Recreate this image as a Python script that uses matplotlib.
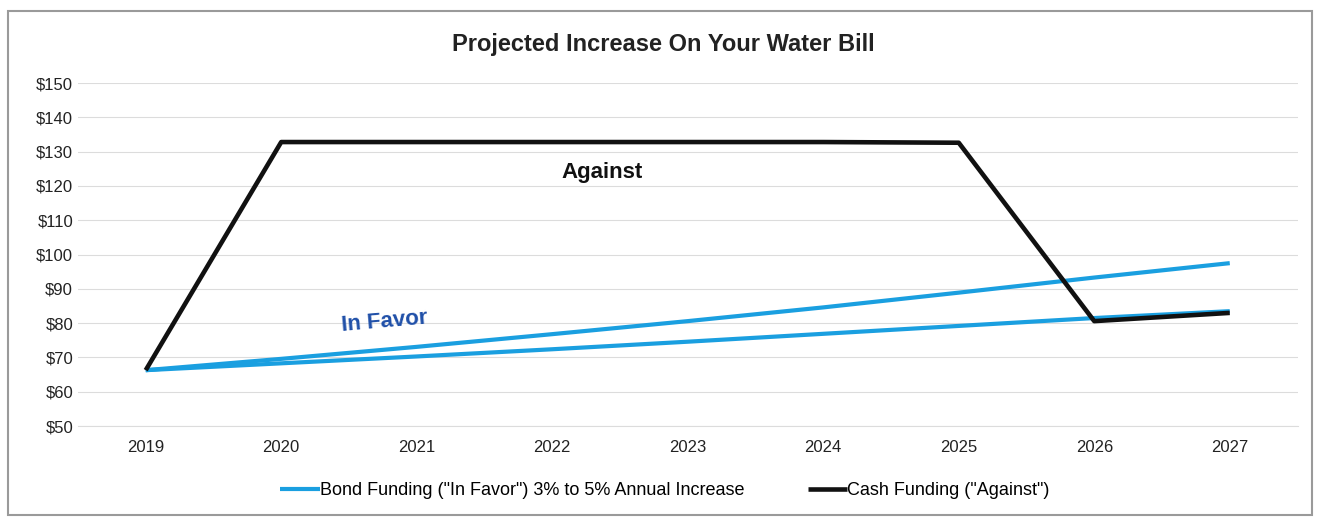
import matplotlib
matplotlib.use("Agg")
from matplotlib import pyplot as plt
from matplotlib.patches import Rectangle

# data
years = ["2019", "2020", "2021", "2022", "2023", "2024", "2025", "2026", "2027"]
bond_5pct = [66.3, 69.6, 73.1, 76.8, 80.6, 84.6, 88.9, 93.3, 97.5]
bond_3pct = [66.3, 68.3, 70.3, 72.4, 74.6, 76.9, 79.2, 81.5, 83.5]
cash = [66.3, 132.8, 132.8, 132.8, 132.8, 132.8, 132.6, 80.6, 83.0]
yticks = [50, 60, 70, 80, 90, 100, 110, 120, 130, 140, 150]

plt.rcParams['font.family'] = ['Liberation Sans Narrow', 'Liberation Sans', 'DejaVu Sans']

blue = '#1a9fe0'
fig = plt.figure(figsize=(13.17, 5.19), dpi=100)
ax = fig.add_axes([0.0592, 0.179, 0.926, 0.661])

x = range(len(years))
ax.plot(x, bond_5pct, color=blue, lw=3, solid_capstyle='butt',
        label='Bond Funding ("In Favor") 3% to 5% Annual Increase')
ax.plot(x, bond_3pct, color=blue, lw=3, solid_capstyle='butt')
ax.plot(x, cash, color='#111111', lw=3.3, solid_capstyle='butt',
        label='Cash Funding ("Against")')

ax.set_xlim(-0.5, len(years) - 0.5)
ax.set_ylim(50, 150)
ax.set_xticks(list(x))
ax.set_xticklabels(years)
ax.set_yticks(yticks)
ax.set_yticklabels(['$%d' % v for v in yticks])
ax.tick_params(length=0, labelsize=12, colors='#222222')
ax.tick_params(axis='x', pad=10)
ax.grid(True, axis='y', color='#dcdcdc', lw=0.8)
ax.set_axisbelow(True)
for s in ax.spines.values():
    s.set_visible(False)
ax.spines['bottom'].set_visible(True)
ax.spines['bottom'].set_color('#dcdcdc')

ax.text(3.37, 124, 'Against', fontsize=16, fontweight='bold', ha='center', va='center', color='#111111')
ax.text(1.76, 80.5, 'In Favor', fontsize=16, fontweight='bold', ha='center', va='center',
        color='#1f4fa8', rotation=5)

fig.text(0.504, 0.915, 'Projected Increase On Your Water Bill', fontsize=17,
         fontweight='bold', ha='center', va='center', color='#222222')

fig.legend(loc='center', bbox_to_anchor=(0.505, 0.055), ncol=2, frameon=False,
           fontsize=13, handlelength=2.2, handletextpad=0.0, columnspacing=3.5)

fig.patches.append(Rectangle((0.006, 0.008), 0.99, 0.97, transform=fig.transFigure,
                             fill=False, edgecolor='#9a9a9a', lw=1.5))

fig.savefig('out.png', dpi=100)
